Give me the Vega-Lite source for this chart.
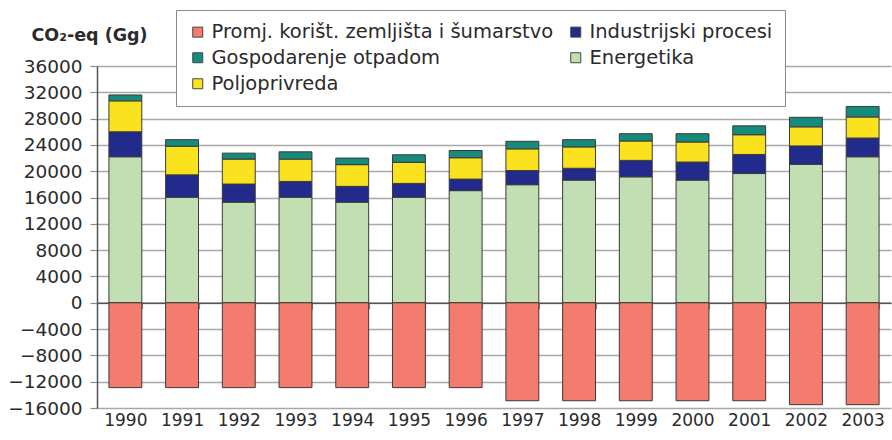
{
  "$schema": "https://vega.github.io/schema/vega-lite/v6.json",
  "width": 794,
  "height": 342,
  "autosize": "none",
  "padding": {"left": 97, "top": 66, "right": 1, "bottom": 32},
  "background": "white",
  "config": {"view": {"stroke": null}, "font": "DejaVu Sans"},
  "data": {"values": [
    {"year": "1990", "cat": "Energetika", "value": 22200},
    {"year": "1990", "cat": "Industrijski procesi", "value": 3800},
    {"year": "1990", "cat": "Poljoprivreda", "value": 4700},
    {"year": "1990", "cat": "Gospodarenje otpadom", "value": 900},
    {"year": "1990", "cat": "Promj. korišt. zemljišta i šumarstvo", "value": -12900},
    {"year": "1991", "cat": "Energetika", "value": 16050},
    {"year": "1991", "cat": "Industrijski procesi", "value": 3400},
    {"year": "1991", "cat": "Poljoprivreda", "value": 4350},
    {"year": "1991", "cat": "Gospodarenje otpadom", "value": 1000},
    {"year": "1991", "cat": "Promj. korišt. zemljišta i šumarstvo", "value": -12900},
    {"year": "1992", "cat": "Energetika", "value": 15300},
    {"year": "1992", "cat": "Industrijski procesi", "value": 2750},
    {"year": "1992", "cat": "Poljoprivreda", "value": 3800},
    {"year": "1992", "cat": "Gospodarenje otpadom", "value": 900},
    {"year": "1992", "cat": "Promj. korišt. zemljišta i šumarstvo", "value": -12900},
    {"year": "1993", "cat": "Energetika", "value": 16050},
    {"year": "1993", "cat": "Industrijski procesi", "value": 2400},
    {"year": "1993", "cat": "Poljoprivreda", "value": 3400},
    {"year": "1993", "cat": "Gospodarenje otpadom", "value": 1100},
    {"year": "1993", "cat": "Promj. korišt. zemljišta i šumarstvo", "value": -12900},
    {"year": "1994", "cat": "Energetika", "value": 15300},
    {"year": "1994", "cat": "Industrijski procesi", "value": 2400},
    {"year": "1994", "cat": "Poljoprivreda", "value": 3300},
    {"year": "1994", "cat": "Gospodarenje otpadom", "value": 1000},
    {"year": "1994", "cat": "Promj. korišt. zemljišta i šumarstvo", "value": -12900},
    {"year": "1995", "cat": "Energetika", "value": 16050},
    {"year": "1995", "cat": "Industrijski procesi", "value": 2100},
    {"year": "1995", "cat": "Poljoprivreda", "value": 3200},
    {"year": "1995", "cat": "Gospodarenje otpadom", "value": 1150},
    {"year": "1995", "cat": "Promj. korišt. zemljišta i šumarstvo", "value": -12900},
    {"year": "1996", "cat": "Energetika", "value": 17050},
    {"year": "1996", "cat": "Industrijski procesi", "value": 1750},
    {"year": "1996", "cat": "Poljoprivreda", "value": 3250},
    {"year": "1996", "cat": "Gospodarenje otpadom", "value": 1100},
    {"year": "1996", "cat": "Promj. korišt. zemljišta i šumarstvo", "value": -12900},
    {"year": "1997", "cat": "Energetika", "value": 17950},
    {"year": "1997", "cat": "Industrijski procesi", "value": 2150},
    {"year": "1997", "cat": "Poljoprivreda", "value": 3300},
    {"year": "1997", "cat": "Gospodarenje otpadom", "value": 1150},
    {"year": "1997", "cat": "Promj. korišt. zemljišta i šumarstvo", "value": -14900},
    {"year": "1998", "cat": "Energetika", "value": 18650},
    {"year": "1998", "cat": "Industrijski procesi", "value": 1800},
    {"year": "1998", "cat": "Poljoprivreda", "value": 3250},
    {"year": "1998", "cat": "Gospodarenje otpadom", "value": 1100},
    {"year": "1998", "cat": "Promj. korišt. zemljišta i šumarstvo", "value": -14900},
    {"year": "1999", "cat": "Energetika", "value": 19150},
    {"year": "1999", "cat": "Industrijski procesi", "value": 2500},
    {"year": "1999", "cat": "Poljoprivreda", "value": 2950},
    {"year": "1999", "cat": "Gospodarenje otpadom", "value": 1100},
    {"year": "1999", "cat": "Promj. korišt. zemljišta i šumarstvo", "value": -14900},
    {"year": "2000", "cat": "Energetika", "value": 18650},
    {"year": "2000", "cat": "Industrijski procesi", "value": 2750},
    {"year": "2000", "cat": "Poljoprivreda", "value": 3050},
    {"year": "2000", "cat": "Gospodarenje otpadom", "value": 1250},
    {"year": "2000", "cat": "Promj. korišt. zemljišta i šumarstvo", "value": -14900},
    {"year": "2001", "cat": "Energetika", "value": 19650},
    {"year": "2001", "cat": "Industrijski procesi", "value": 2900},
    {"year": "2001", "cat": "Poljoprivreda", "value": 3000},
    {"year": "2001", "cat": "Gospodarenje otpadom", "value": 1350},
    {"year": "2001", "cat": "Promj. korišt. zemljišta i šumarstvo", "value": -14900},
    {"year": "2002", "cat": "Energetika", "value": 21050},
    {"year": "2002", "cat": "Industrijski procesi", "value": 2800},
    {"year": "2002", "cat": "Poljoprivreda", "value": 2900},
    {"year": "2002", "cat": "Gospodarenje otpadom", "value": 1450},
    {"year": "2002", "cat": "Promj. korišt. zemljišta i šumarstvo", "value": -15500},
    {"year": "2003", "cat": "Energetika", "value": 22200},
    {"year": "2003", "cat": "Industrijski procesi", "value": 2850},
    {"year": "2003", "cat": "Poljoprivreda", "value": 3200},
    {"year": "2003", "cat": "Gospodarenje otpadom", "value": 1600},
    {"year": "2003", "cat": "Promj. korišt. zemljišta i šumarstvo", "value": -15500}
  ]},
  "transform": [
    {"calculate": "indexof(['Energetika','Industrijski procesi','Poljoprivreda','Gospodarenje otpadom'], datum.cat)", "as": "stackOrder"}
  ],
  "mark": {"type": "bar", "stroke": "#3a3a3a", "strokeWidth": 1},
  "encoding": {
    "x": {
      "field": "year", "type": "ordinal",
      "scale": {"paddingInner": 0.42, "paddingOuter": 0.21},
      "axis": {
        "title": null, "labelAngle": 0, "offset": -105.2,
        "tickBand": "extent", "tickSize": 6, "tickColor": "#8a8a8a", "tickWidth": 1.2,
        "domainColor": "#555555", "domainWidth": 1.5,
        "labelPadding": 104, "labelFontSize": 17, "labelColor": "#2b2b2b", "grid": false
      }
    },
    "y": {
      "field": "value", "type": "quantitative", "stack": "zero",
      "scale": {"domain": [-16000, 36000], "nice": false},
      "axis": {
        "values": [-16000, -12000, -8000, -4000, 0, 4000, 8000, 12000, 16000, 20000, 24000, 28000, 32000, 36000],
        "format": "d",
        "grid": true, "gridColor": "#a8a8a8", "gridWidth": 1.5,
        "domainColor": "#555555", "domainWidth": 1.5,
        "tickSize": 7, "tickColor": "#8a8a8a", "tickWidth": 1.2,
        "labelFontSize": 18.5, "labelColor": "#2b2b2b", "labelPadding": 8,
        "title": "CO₂-eq (Gg)", "titleAngle": 0, "titleAlign": "left", "titleBaseline": "middle",
        "titleX": -66, "titleY": -31, "titleFontSize": 17.5, "titleFontWeight": "bold", "titleColor": "#2b2b2b"
      }
    },
    "color": {
      "field": "cat", "type": "nominal",
      "scale": {
        "domain": ["Promj. korišt. zemljišta i šumarstvo", "Gospodarenje otpadom", "Poljoprivreda", "Industrijski procesi", "Energetika"],
        "range": ["#F47C6E", "#168A7B", "#FBE21E", "#222A8C", "#C2DFB4"]
      },
      "legend": {
        "title": null, "orient": "none", "legendX": 79, "legendY": -56,
        "columns": 2, "direction": "vertical",
        "fillColor": "white", "strokeColor": "#8a8a8a", "padding": 12,
        "labelFontSize": 19.5, "labelColor": "#2b2b2b", "labelLimit": 600,
        "symbolType": "square", "symbolSize": 100, "symbolStrokeColor": "#444444", "symbolStrokeWidth": 1,
        "rowPadding": 5, "columnPadding": 12, "labelOffset": 4
      }
    },
    "order": {"field": "stackOrder", "type": "quantitative", "sort": "ascending"}
  }
}
